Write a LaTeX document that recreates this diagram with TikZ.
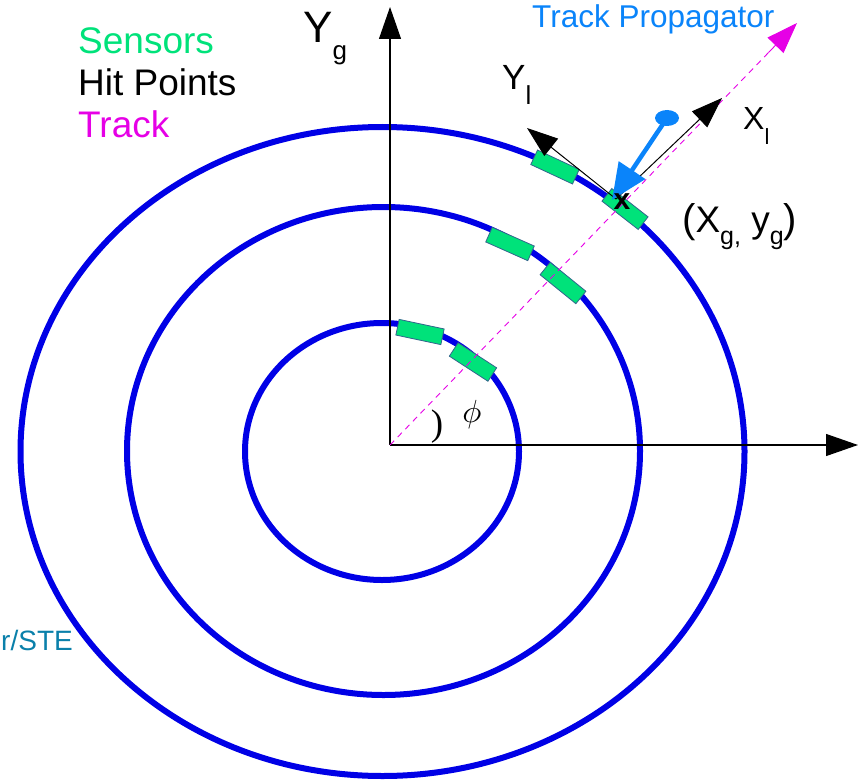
\documentclass[tikz,border=0pt]{standalone}
\usepackage{fontspec}
\setmainfont{Liberation Sans}
\newfontfamily\myserif{Liberation Serif}
\usetikzlibrary{arrows.meta,shapes.geometric,calc}
\definecolor{ringblue}{RGB}{0,0,230}
\definecolor{sensgreen}{RGB}{0,226,122}
\definecolor{sensedge}{RGB}{50,100,140}
\definecolor{trackmag}{RGB}{230,0,230}
\definecolor{propblue}{RGB}{10,132,250}
\definecolor{steteal}{RGB}{10,128,170}
\newcommand{\myfs}[1]{\fontsize{#1}{#1}\selectfont}
\begin{document}
\begin{tikzpicture}[x=1pt,y=-1pt,
  ring/.style={draw=ringblue, line width=6pt},
  axisarrow/.style={draw=black, line width=1.1pt, -{Triangle[length=32pt,width=22pt]}},
  localarrow/.style={draw=black, line width=1pt, -{Triangle[length=31pt,width=22pt]}},
  sensor/.style={draw=sensedge, fill=sensgreen, line width=0.8pt, minimum width=46pt, minimum height=16pt, inner sep=0pt},
  lbl/.style={inner sep=0pt, anchor=base west},
  dotnode/.style={ellipse, fill=propblue, minimum width=24pt, minimum height=16pt, inner sep=0pt},
]
\useasboundingbox (0,0) rectangle (864,781);
% rings
\draw[ring] (382.5,451.5) ellipse [x radius=362pt, y radius=324.5pt];
\draw[ring] (383.5,451) ellipse [x radius=256.5pt, y radius=244pt];
\draw[ring] (382,451.5) ellipse [x radius=137pt, y radius=128.5pt];
% coordinates
\coordinate (O) at (390,445);
\coordinate (xend) at (858,445);
\coordinate (yend) at (390,7);
\coordinate (tend) at (797,23);
\coordinate (hit) at (616,199);
\coordinate (xl) at (722,98);
\coordinate (yl) at (527,128);
\coordinate (ptip) at (612,200);
% global axes
\draw[axisarrow] (O) -- (xend);
\draw[axisarrow] (O) -- (yend);
% sensors
\node[sensor, rotate=-12] (s1) at (420,332) {};
\node[sensor, rotate=-33] (s2) at (473,362) {};
\node[sensor, rotate=-24] (s3) at (510,244) {};
\node[sensor, rotate=-39] (s4) at (563,283) {};
\node[sensor, rotate=-25] (s5) at (555,167) {};
\node[sensor, rotate=-38] (s6) at (625,209) {};
% track
\coordinate (tmid) at ($(O)!0.93!(tend)$);
\draw[trackmag, line width=0.9pt, dash pattern=on 6pt off 5pt] (O) -- (tmid);
\draw[trackmag, line width=0.9pt, -{Triangle[length=31pt,width=22pt]}] (tmid) -- (tend);
% local axes
\draw[localarrow] (hit) -- (xl);
\draw[localarrow] (hit) -- (yl);
% propagator
\node[dotnode] (dot) at (667,118) {};
\draw[propblue, line width=4.5pt, -{Triangle[length=36pt,width=31pt]}] (dot.center) -- (ptip);
\node[inner sep=0pt, font=\myfs{30}\bfseries] (hitx) at (622,202) {x};
% labels
\node[lbl, text=sensgreen, font=\myfs{37}] (lsens) at (78,54) {Sensors};
\node[lbl, text=black, font=\myfs{37}] (lhit) at (78,96) {Hit Points};
\node[lbl, text=trackmag, font=\myfs{37}] (ltrack) at (78,137) {Track};
\node[lbl, text=propblue, font=\myfs{31.5}] (lprop) at (532,28) {Track Propagator};
\node[lbl, font=\myfs{44}] (lyg) at (303,43) {Y\raisebox{-16.5pt}{\myfs{26}g}};
\node[lbl, font=\myfs{35}] (lyl) at (502,90) {Y\raisebox{-15pt}{\myfs{26}l}};
\node[lbl, font=\myfs{32}] (lxl) at (743,130) {X\raisebox{-14pt}{\myfs{22}l}};
\node[lbl, font=\myfs{37}] (lxy) at (682,232) {{\myfs{40}(}X\raisebox{-12pt}{\myfs{25}g,} y\raisebox{-12pt}{\myfs{25}g}{\myfs{40})}};
\node[inner sep=0pt, font=\myserif\myfs{37}] (lparen) at (437,427) {)};
\node[inner sep=0pt] (lphi) at (472,414) {\scalebox{3.2}{$\phi$}};
\node[inner sep=0pt, anchor=base east, text=steteal, font=\myfs{28}] (lste) at (73,650) {r/STE};
\end{tikzpicture}
\end{document}
